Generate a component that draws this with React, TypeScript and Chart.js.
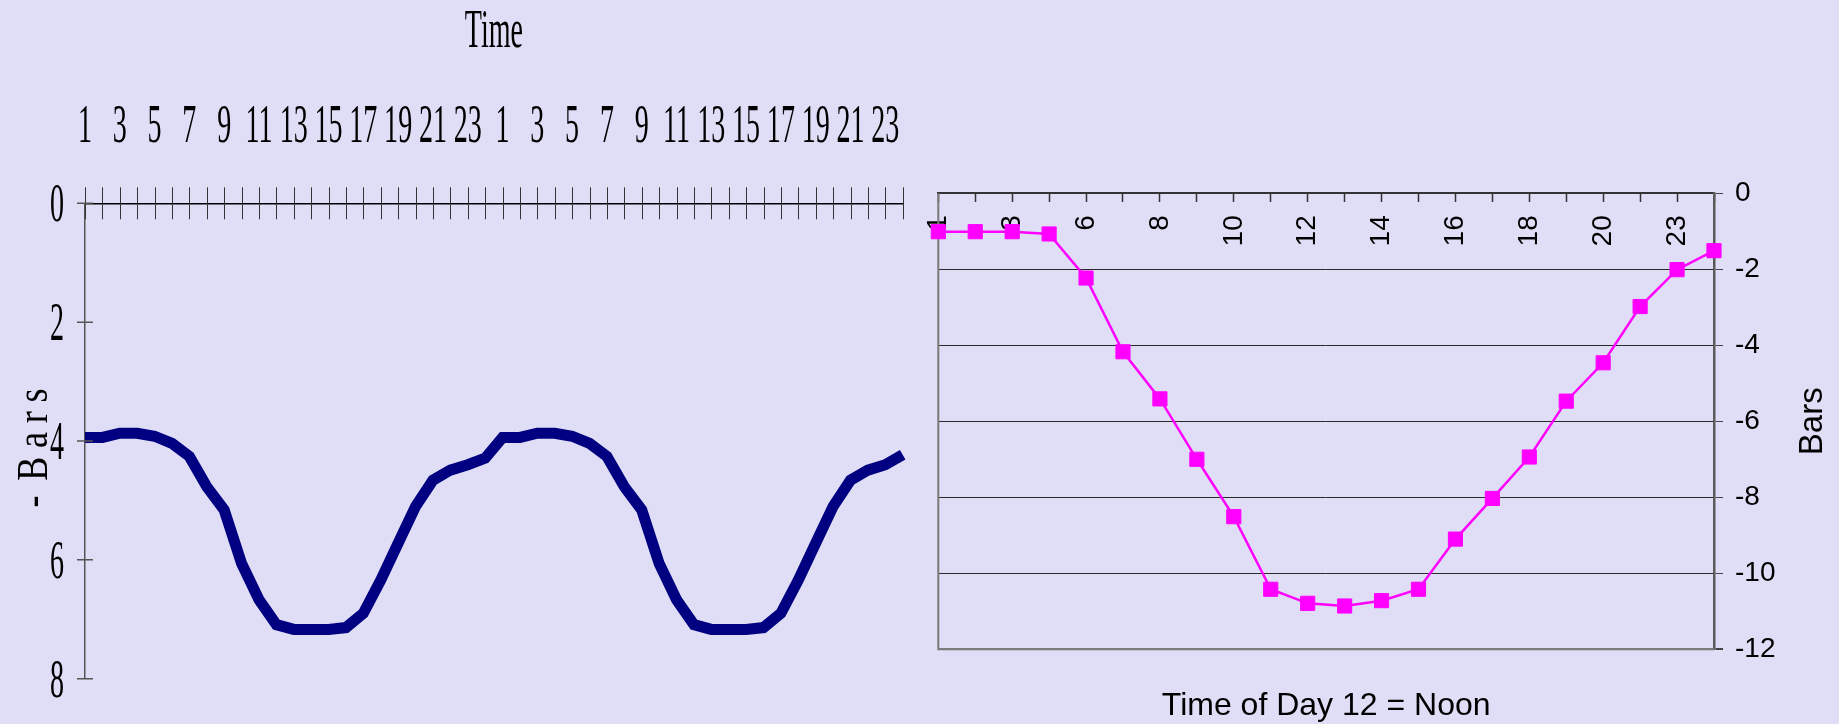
import React, { useEffect, useRef } from 'react';
import { Chart, registerables } from 'chart.js';

Chart.register(...registerables);

const PAGE_BG = 'rgb(223,222,246)';

// Two-day trace: hour of day (1–24, repeated) and bars below zero.
const dayOneHours = [1, 2, 3, 4, 5, 6, 7, 8, 9, 10, 11, 12, 13, 14, 15, 16, 17, 18, 19, 20, 21, 22, 23, 24];
const dayTwoHours = [1, 2, 3, 4, 5, 6, 7, 8, 9, 10, 11, 12, 13, 14, 15, 16, 17, 18, 19, 20, 21, 22, 23, 24];
const twoDayBars = [
  3.94, 3.94, 3.87, 3.87, 3.92, 4.04, 4.26, 4.77, 5.16, 6.06, 6.67, 7.09,
  7.17, 7.17, 7.17, 7.14, 6.9, 6.34, 5.72, 5.1, 4.66, 4.49, 4.4, 4.29,
  3.94, 3.94, 3.87, 3.87, 3.92, 4.04, 4.26, 4.77, 5.16, 6.06, 6.67, 7.09,
  7.17, 7.17, 7.17, 7.14, 6.9, 6.34, 5.72, 5.1, 4.66, 4.49, 4.4, 4.23,
];
const twoDayTicks = [0, 2, 4, 6, 8];

// Single day: time of day and pressure in bars.
const dayHours = [1, 2, 3, 4, 6, 7, 8, 9, 10, 11, 12, 13, 14, 15, 16, 17, 18, 19, 20, 21, 23, 24];
const dayBars = [
  -1.01, -1.01, -1.01, -1.07, -2.23, -4.17, -5.41, -7.0, -8.51, -10.42, -10.79,
  -10.86, -10.72, -10.42, -9.1, -8.03, -6.94, -5.47, -4.46, -2.98, -2.01, -1.51,
];

const SERIF = '"Liberation Serif", "Times New Roman", serif';
const SANS = '"Liberation Sans", Arial, sans-serif';
const NARROW = 0.52;

function narrowText(ctx: CanvasRenderingContext2D, text: string, x: number, y: number, align: CanvasTextAlign) {
  ctx.save();
  ctx.translate(x, y);
  ctx.scale(NARROW, 1);
  ctx.textAlign = align;
  ctx.textBaseline = 'alphabetic';
  ctx.fillText(text, 0, 0);
  ctx.restore();
}

const twoDayDecor = {
  id: 'twoDayDecor',
  afterDraw(chart: any) {
    const { ctx, chartArea: a } = chart;
    const xs = chart.scales.x;
    const ys = chart.scales.y;
    const hours = [...dayOneHours, ...dayTwoHours];
    ctx.save();
    // cross tick marks on both axes
    ctx.strokeStyle = '#333';
    ctx.lineWidth = 1;
    ctx.beginPath();
    for (let i = 0; i < hours.length; i++) {
      const px = Math.round(xs.getPixelForValue(i)) + 0.5;
      ctx.moveTo(px, a.top - 16);
      ctx.lineTo(px, a.top + 16);
    }
    ctx.stroke();
    ctx.strokeStyle = '#555';
    ctx.lineWidth = 1.5;
    ctx.beginPath();
    for (const v of twoDayTicks) {
      const py = ys.getPixelForValue(v);
      ctx.moveTo(a.left - 8, py);
      ctx.lineTo(a.left + 8, py);
    }
    ctx.stroke();

    ctx.fillStyle = '#000';
    ctx.font = `54px ${SERIF}`;
    for (let i = 0; i < hours.length; i += 2) {
      narrowText(ctx, String(hours[i]), xs.getPixelForValue(i), a.top - 61.6, 'center');
    }
    for (const v of twoDayTicks) {
      narrowText(ctx, String(v), a.left - 21, ys.getPixelForValue(v) + 18, 'right');
    }
    narrowText(ctx, 'Time', (a.left + a.right) / 2, a.top - 156.6, 'center');

    // vertical axis title
    ctx.save();
    ctx.translate(a.left - 38.3, a.top + 304.1);
    ctx.rotate(-Math.PI / 2);
    ctx.scale(0.8, 1);
    ctx.font = `45px ${SERIF}`;
    ctx.textAlign = 'left';
    ctx.textBaseline = 'alphabetic';
    const c: any = ctx;
    if ('letterSpacing' in c) c.letterSpacing = '11px';
    if ('wordSpacing' in c) c.wordSpacing = '-15px';
    ctx.fillText('- Bars', 0, 0);
    ctx.restore();
    ctx.restore();
  },
};

const dayDecor = {
  id: 'dayDecor',
  beforeDatasetsDraw(chart: any) {
    const { ctx, chartArea: a } = chart;
    ctx.save();
    ctx.strokeStyle = '#7a7a7a';
    ctx.lineWidth = 2;
    ctx.beginPath();
    ctx.moveTo(a.left, a.top);
    ctx.lineTo(a.left, a.bottom);
    ctx.lineTo(a.right, a.bottom);
    ctx.stroke();
    ctx.restore();
  },
  afterDraw(chart: any) {
    const { ctx, chartArea: a } = chart;
    ctx.save();
    ctx.fillStyle = '#000';
    ctx.font = `32px ${SANS}`;
    ctx.textAlign = 'center';
    ctx.textBaseline = 'alphabetic';
    ctx.fillText('Time of Day 12 = Noon', (a.left + a.right) / 2, a.bottom + 65.7);
    ctx.save();
    ctx.translate(a.right + 107.7, (a.top + a.bottom) / 2);
    ctx.rotate(-Math.PI / 2);
    ctx.font = `33px ${SANS}`;
    ctx.fillText('Bars', 0, 0);
    ctx.restore();
    ctx.restore();
  },
};

export default function App() {
  const leftRef = useRef<HTMLCanvasElement>(null);
  const rightRef = useRef<HTMLCanvasElement>(null);

  useEffect(() => {
    const hours = [...dayOneHours, ...dayTwoHours];
    const left = new Chart(leftRef.current as HTMLCanvasElement, {
      type: 'line',
      data: {
        labels: hours.map(String),
        datasets: [
          {
            data: twoDayBars,
            borderColor: '#000080',
            borderWidth: 11,
            borderJoinStyle: 'miter',
            borderCapStyle: 'butt',
            pointRadius: 0,
            tension: 0,
            fill: false,
          },
        ],
      },
      options: {
        animation: false,
        responsive: false,
        devicePixelRatio: 1,
        layout: { padding: { left: 85, top: 203.3, right: 12.3, bottom: 45.3 } },
        plugins: { legend: { display: false }, tooltip: { enabled: false } },
        scales: {
          x: {
            type: 'category',
            position: 'top',
            offset: false,
            grid: { drawOnChartArea: false, drawTicks: false },
            border: { display: true, color: '#000', width: 1.5 },
            ticks: { display: false },
          },
          y: {
            type: 'linear',
            position: 'left',
            reverse: true,
            min: 0,
            max: 8,
            grid: { drawOnChartArea: false, drawTicks: false },
            border: { display: true, color: '#555', width: 1.5 },
            ticks: { display: false, stepSize: 2 },
          },
        },
      } as any,
      plugins: [twoDayDecor],
    });

    const right = new Chart(rightRef.current as HTMLCanvasElement, {
      type: 'line',
      data: {
        labels: dayHours.map(String),
        datasets: [
          {
            data: dayBars,
            borderColor: '#FF00FF',
            borderWidth: 2.5,
            pointStyle: 'rect',
            pointRadius: 10,
            pointBackgroundColor: '#FF00FF',
            pointBorderColor: '#FF00FF',
            pointBorderWidth: 1,
            tension: 0,
            fill: false,
          },
        ],
      },
      options: {
        animation: false,
        responsive: false,
        devicePixelRatio: 1,
        layout: { padding: { left: 23.3, top: 193.3, right: 0, bottom: 74.7 } },
        plugins: { legend: { display: false }, tooltip: { enabled: false } },
        scales: {
          x: {
            type: 'category',
            position: { y: 0 },
            offset: false,
            grid: { drawOnChartArea: false, drawTicks: true, tickLength: 8, tickColor: '#333', tickWidth: 1.5 },
            border: { display: true, color: '#333', width: 2 },
            ticks: {
              autoSkip: false,
              minRotation: 90,
              maxRotation: 90,
              padding: 14,
              color: '#000',
              font: { family: SANS, size: 28 },
              callback: (_v: any, i: number) => (i % 2 === 0 ? String(dayHours[i]) : ''),
            },
          },
          y: {
            type: 'linear',
            position: 'right',
            min: -12,
            max: 0,
            afterFit: (s: any) => {
              s.width = 125;
            },
            grid: {
              color: (c: any) => (c.tick && c.tick.value === -12 ? '#8a8a8a' : '#2b2b2b'),
              lineWidth: (c: any) => (c.tick && c.tick.value === -12 ? 2 : 1),
              tickLength: 9,
              tickColor: '#444',
            },
            border: { display: true, color: '#5a5a5a', width: 2.5 },
            ticks: { stepSize: 2, padding: 12, color: '#000', font: { family: SANS, size: 28 } },
          },
        },
      } as any,
      plugins: [dayDecor],
    });

    return () => {
      left.destroy();
      right.destroy();
    };
  }, []);

  return (
    <div
      style={{
        position: 'fixed',
        left: 0,
        top: 0,
        width: 1839,
        height: 724,
        background: PAGE_BG,
        overflow: 'hidden',
      }}
    >
      <canvas ref={leftRef} width={915} height={724} style={{ position: 'absolute', left: 0, top: 0 }} />
      <canvas ref={rightRef} width={924} height={724} style={{ position: 'absolute', left: 915, top: 0 }} />
    </div>
  );
}
